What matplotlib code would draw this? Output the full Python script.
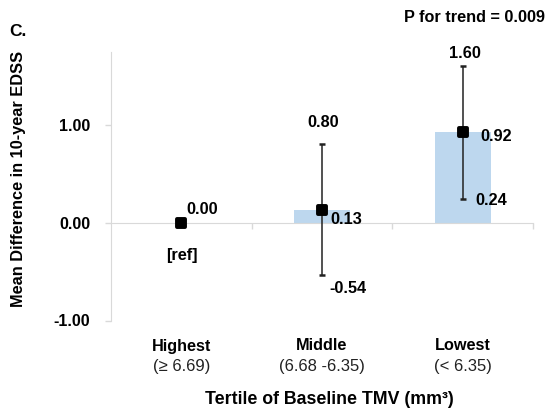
import matplotlib
matplotlib.use('Agg')
import matplotlib.pyplot as plt
from matplotlib.markers import MarkerStyle

# Data
tertiles = ['Highest', 'Middle', 'Lowest']
ranges = ['(\u2265 6.69)', '(6.68 -6.35)', '(< 6.35)']
mean_diff = [0.00, 0.13, 0.92]
ci_low = [0.00, -0.54, 0.24]
ci_high = [0.00, 0.80, 1.60]
bar_values = [0.00, 0.13, 0.92]
mean_labels = ['0.00', '0.13', '0.92']
low_labels = ['[ref]', '-0.54', '0.24']
high_labels = ['', '0.80', '1.60']
yticks = [-1.0, 0.0, 1.0]
p_text = 'P for trend = 0.009'

plt.rcParams['font.family'] = ['Liberation Sans', 'DejaVu Sans']

fig = plt.figure(figsize=(5.49, 4.13), dpi=100)
ax = fig.add_axes([111 / 549, 92.5 / 413, 422 / 549, 268.8 / 413])

x = list(range(len(tertiles)))
ax.bar(x, bar_values, width=0.4, color='#bdd7ee', zorder=1)

err_lo = [m - l for m, l in zip(mean_diff, ci_low)]
err_hi = [h - m for m, h in zip(mean_diff, ci_high)]
ax.errorbar(x[1:], mean_diff[1:], yerr=[err_lo[1:], err_hi[1:]], fmt='none',
            ecolor='#222222', elinewidth=1.1, capsize=2, capthick=1.8, zorder=3)
ax.plot(x, mean_diff, linestyle='none', marker=MarkerStyle('s', joinstyle='round'),
        ms=5.8, mew=2.8, color='black', markeredgecolor='black', zorder=4)

ax.set_xlim(-0.5, 2.5)
ax.set_ylim(-1.0, 1.745)

# spines
for s in ['top', 'right']:
    ax.spines[s].set_visible(False)
ax.spines['bottom'].set_position(('data', 0))
ax.spines['bottom'].set_color('#d9d9d9')
ax.spines['left'].set_color('#d9d9d9')
ax.spines['bottom'].set_zorder(2)

ax.set_yticks(yticks)
ax.set_yticklabels([f'{v:.2f}' for v in yticks], fontsize=11.5, fontweight='bold')
ax.tick_params(axis='y', length=4, width=1, color='#d9d9d9', pad=11)
ax.set_xticks([0.5, 1.5, 2.5])
ax.set_xticklabels([])
ax.tick_params(axis='x', direction='out', length=4, width=1, color='#d9d9d9')

# value labels (offsets in points)
pt = 0.72
fs = 11.7
ax.annotate(mean_labels[0], (x[0], mean_diff[0]), xytext=(5.5 * pt, 13.5 * pt),
            textcoords='offset points', ha='left', va='center', fontsize=fs, fontweight='bold')
ax.annotate(low_labels[0], (x[0], ci_low[0]), xytext=(0.5 * pt, -32.5 * pt),
            textcoords='offset points', ha='center', va='center', fontsize=fs, fontweight='bold')

ax.annotate(high_labels[1], (x[1], ci_high[1]), xytext=(1 * pt, 22 * pt),
            textcoords='offset points', ha='center', va='center', fontsize=fs, fontweight='bold')
ax.annotate(mean_labels[1], (x[1], mean_diff[1]), xytext=(8 * pt, -10 * pt),
            textcoords='offset points', ha='left', va='center', fontsize=fs, fontweight='bold')
ax.annotate(low_labels[1], (x[1], ci_low[1]), xytext=(7 * pt, -13.5 * pt),
            textcoords='offset points', ha='left', va='center', fontsize=fs, fontweight='bold')

ax.annotate(high_labels[2], (x[2], ci_high[2]), xytext=(2.5 * pt, 12.7 * pt),
            textcoords='offset points', ha='center', va='center', fontsize=fs, fontweight='bold')
ax.annotate(mean_labels[2], (x[2], mean_diff[2]), xytext=(17.5 * pt, -3.7 * pt),
            textcoords='offset points', ha='left', va='center', fontsize=fs, fontweight='bold')
ax.annotate(low_labels[2], (x[2], ci_low[2]), xytext=(12.5 * pt, -1 * pt),
            textcoords='offset points', ha='left', va='center', fontsize=fs, fontweight='bold')

# category labels below the plot
for i, (name, rng) in enumerate(zip(tertiles, ranges)):
    ax.annotate(name, (x[i], -1.0), xytext=(0, -25.5 * pt), textcoords='offset points',
                ha='center', va='center', fontsize=fs, fontweight='bold')
    ax.annotate(rng, (x[i], -1.0), xytext=(0, -45.5 * pt), textcoords='offset points',
                ha='center', va='center', fontsize=12, color='#222222')

fig.text(329 / 549, 1 - 399 / 413, 'Tertile of Baseline TMV (mm\u00b3)',
         ha='center', va='center', fontsize=12.8, fontweight='bold')
fig.text(19 / 549, 1 - 178.5 / 413, 'Mean Difference in 10-year EDSS', rotation=90,
         ha='center', va='center', fontsize=11.8, fontweight='bold')
fig.text(9 / 549, 1 - 31.5 / 413, 'C.', ha='left', va='center', fontsize=12.5, fontweight='bold')
fig.text(545 / 549, 1 - 18 / 413, p_text, ha='right', va='center', fontsize=fs, fontweight='bold')

fig.savefig('out.png', dpi=100)
